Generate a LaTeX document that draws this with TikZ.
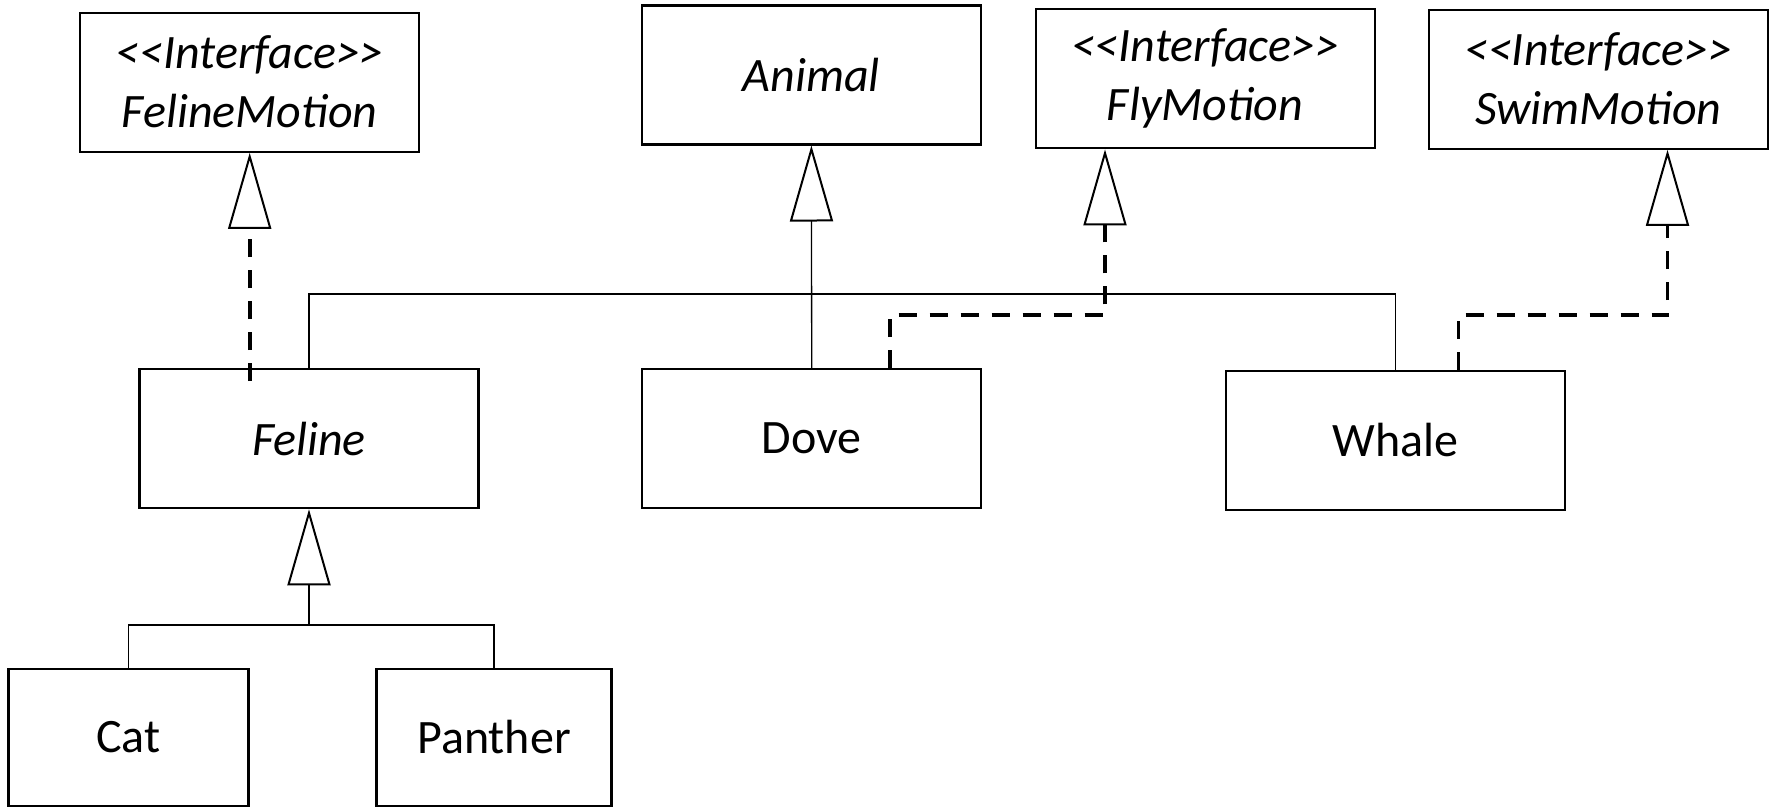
\documentclass[tikz,border=0pt]{standalone}
\usepackage{fontspec}
\setmainfont{Carlito}
\usetikzlibrary{arrows.meta}
\begin{document}
\begin{tikzpicture}[x=1pt,y=-1pt,
  cls/.style={draw=black, line width=2.2pt, rectangle, inner sep=0pt,
    minimum width=339pt, minimum height=139pt, align=center,
    font=\fontsize{48}{59}\selectfont},
  small/.style={cls, minimum width=240pt, minimum height=137pt},
  gen/.style={draw=black, line width=1.3pt},
  real/.style={draw=black, line width=3.8pt, dash pattern=on 18pt off 13pt},
  tri/.style={-{Triangle[open, length=76pt, width=43pt, line width=2pt]}}
]
\useasboundingbox (0,0) rectangle (1774,807);
% boxes
\node[cls] (fm)     at (249.7,82.2)  {\itshape <{}<Interface>{}>\\\itshape FelineMotion};
\node[cls] (animal) at (811.4,74.9)  {\itshape Animal};
\node[cls] (fly)    at (1205.1,78.8) {\itshape <{}<Interface>{}>\\\itshape FlyMotion};
\node[cls] (swim)   at (1598.2,79.2) {\itshape <{}<Interface>{}>\\\itshape SwimMotion};
\node[cls] (feline) at (309,438.7)   {\itshape Feline};
\node[cls] (dove)   at (811.7,438.7) {Dove};
\node[cls] (whale)  at (1395.3,440.5){Whale};
\node[small] (cat)     at (128.4,737.2) {Cat};
\node[small, minimum width=235pt] (panther) at (494,737.2) {Panther};
% junctions
\coordinate (j)  at (811.5,294);
\coordinate (j2) at (309,625);
\coordinate (d1) at (889.7,315);
\coordinate (d2) at (1105,315);
\coordinate (d3) at (1458.4,315);
\coordinate (d4) at (1667.5,315);
% generalization to Animal
\draw[gen, tri] (dove.north) -- (animal.south);
\draw[gen] (feline.north) |- (j);
\draw[gen] (whale.north) |- (j);
% generalization to Feline
\draw[gen, tri] (j2) -- (feline.south);
\draw[gen] (cat.north) |- (j2) -| (panther.north);
% realizations
\draw[real, tri] ([yshift=-13pt]feline.north -| fm.south) -- (fm.south);
\draw[real, tri] (dove.north -| d1) -- (d1) -- (d2) -- (fly.south -| d2);
\draw[real, tri] (whale.north -| d3) -- (d3) -- (d4) -- (swim.south -| d4);
\end{tikzpicture}
\end{document}
